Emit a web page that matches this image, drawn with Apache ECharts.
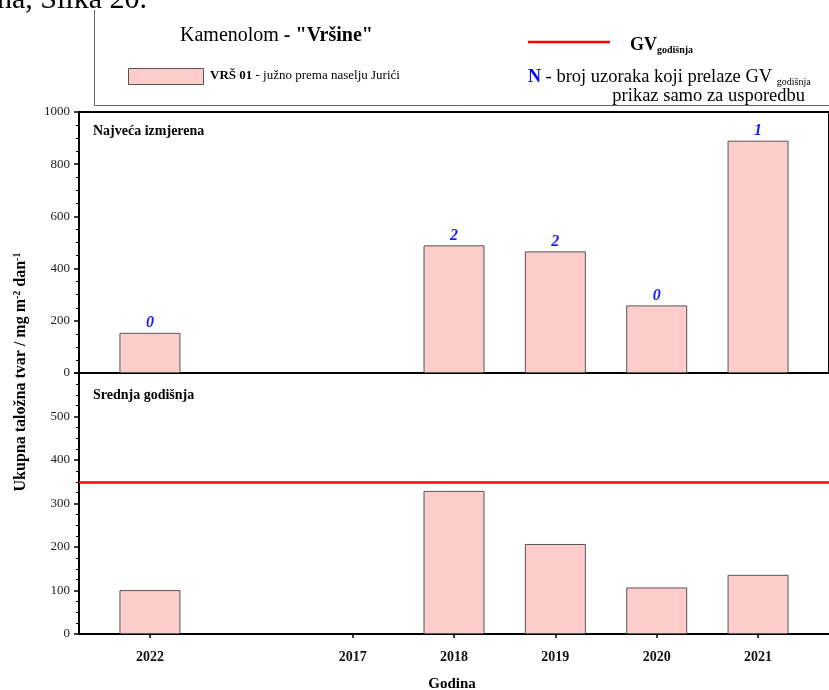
<!DOCTYPE html>
<html>
<head>
<meta charset="utf-8">
<script src="https://cdn.jsdelivr.net/npm/echarts@6/dist/echarts.min.js"></script>
<style>
  html, body { margin: 0; padding: 0; background: #fff; }
  #chart { width: 829px; height: 690px; }
</style>
</head>
<body>
<div id="chart"></div>
<script>
// Years on the x axis and the slot each one sits in (one slot left empty)
const years = ['2022', '2017', '2018', '2019', '2020', '2021'];
const slots = [0, 2, 3, 4, 5, 6];

// Najveća izmjerena (mg m-2 dan-1)
const maxValues = [154, null, 489, 466, 259, 890];
// Srednja godišnja (mg m-2 dan-1)
const meanValues = [101, null, 329, 207, 107, 136];
// N - broj uzoraka koji prelaze GV godišnja
const nCounts = [0, null, 2, 2, 0, 1];
// GV godišnja
const gvLimit = 350;

const serif = '"Liberation Serif", "DejaVu Serif", serif';
const barColor = '#ffcccc';
const barBorder = '#555555';

var chart = echarts.init(document.getElementById('chart'));

function pairs(values) {
  const out = [];
  values.forEach((v, i) => {
    if (v !== null) out.push({ value: [slots[i], v], n: nCounts[i] });
  });
  return out;
}

function yearLabel(val) {
  const i = slots.indexOf(Math.round(val));
  return i >= 0 ? years[i] : '';
}

const xCommon = {
  type: 'value',
  min: -0.7,
  max: 6.7,
  splitLine: { show: false },
  axisLine: { show: true, onZero: false, lineStyle: { color: '#000', width: 2 } }
};

const yCommon = {
  type: 'value',
  splitLine: { show: false },
  axisLine: { show: true, onZero: false, lineStyle: { color: '#000', width: 2 } },
  axisTick: { show: true, length: 5, lineStyle: { color: '#000', width: 1.5 } },
  minorTick: { show: true, splitNumber: 4, length: 3, lineStyle: { color: '#000' } },
  axisLabel: {
    fontFamily: serif, fontSize: 13, color: '#222', margin: 9,
    formatter: (v) => String(v)
  }
};

chart.setOption({
  backgroundColor: '#fff',
  animation: false,
  grid: [
    { left: 79, top: 112, width: 752, height: 261, show: true, borderColor: '#000', borderWidth: 2, backgroundColor: 'transparent' },
    { left: 79, top: 373, width: 752, height: 261 }
  ],
  xAxis: [
    Object.assign({}, xCommon, {
      gridIndex: 0,
      axisTick: { show: false },
      axisLabel: { show: false }
    }),
    Object.assign({}, xCommon, {
      gridIndex: 1,
      axisTick: { show: true, customValues: slots, length: 4, lineStyle: { color: '#000', width: 1.5 } },
      axisLabel: {
        customValues: slots,
        formatter: yearLabel,
        fontFamily: serif, fontSize: 14, fontWeight: 'bold', color: '#111', margin: 16
      }
    })
  ],
  yAxis: [
    Object.assign({}, yCommon, { gridIndex: 0, min: 0, max: 1000, interval: 200 }),
    Object.assign({}, yCommon, {
      gridIndex: 1, min: 0, max: 600, interval: 100,
      axisLabel: Object.assign({}, yCommon.axisLabel, { showMaxLabel: false })
    })
  ],
  series: [
    {
      type: 'bar',
      xAxisIndex: 0,
      yAxisIndex: 0,
      barWidth: 61,
      data: pairs(maxValues),
      itemStyle: { color: barColor, borderColor: barBorder, borderWidth: 1 },
      label: {
        show: true,
        position: 'top',
        distance: 2,
        formatter: (p) => String(p.data.n),
        fontFamily: serif, fontSize: 16, fontWeight: 'bold', fontStyle: 'italic', color: '#1a1aff'
      }
    },
    {
      type: 'bar',
      xAxisIndex: 1,
      yAxisIndex: 1,
      barWidth: 61,
      data: pairs(meanValues),
      itemStyle: { color: barColor, borderColor: barBorder, borderWidth: 1 },
      markLine: {
        silent: true,
        symbol: 'none',
        label: { show: false },
        lineStyle: { color: '#ff0000', width: 2.5, type: 'solid' },
        data: [{ yAxis: gvLimit }]
      }
    }
  ],
  graphic: [
    // legend box (left and bottom edges only are visible)
    { type: 'line', shape: { x1: 94.5, y1: 10, x2: 94.5, y2: 105.5 }, style: { stroke: '#666', lineWidth: 1 } },
    { type: 'line', shape: { x1: 94.5, y1: 105.5, x2: 829, y2: 105.5 }, style: { stroke: '#666', lineWidth: 1 } },
    // text of the surrounding document, cut off at the top
    { type: 'text', x: -3, y: 15, style: { text: 'na, Slika 20.', font: '30px ' + serif, fill: '#000', verticalAlign: 'bottom' } },
    {
      type: 'text', x: 180, y: 26,
      style: {
        text: '{r|Kamenolom }{b|- "Vršine"}',
        rich: {
          r: { font: '20px ' + serif, fill: '#000' },
          b: { font: 'bold 20px ' + serif, fill: '#000' }
        }
      }
    },
    { type: 'rect', shape: { x: 128.5, y: 68.5, width: 75, height: 16 }, style: { fill: barColor, stroke: barBorder, lineWidth: 1 } },
    {
      type: 'text', x: 210, y: 69,
      style: {
        text: '{b|VRŠ 01}{r| - južno prema naselju Jurići}',
        rich: {
          b: { font: 'bold 13px ' + serif, fill: '#000' },
          r: { font: '13px ' + serif, fill: '#000' }
        }
      }
    },
    { type: 'line', shape: { x1: 528, y1: 42, x2: 610, y2: 42 }, style: { stroke: '#ff0000', lineWidth: 2.5 } },
    {
      type: 'text', x: 630, y: 34,
      style: {
        text: '{b|GV}{s|godišnja}',
        rich: {
          b: { font: 'bold 18px ' + serif, fill: '#000', lineHeight: 22 },
          s: { font: 'bold 10px ' + serif, fill: '#000', lineHeight: 22, padding: [10, 0, 0, 0] }
        }
      }
    },
    {
      type: 'text', x: 528, y: 66,
      style: {
        text: '{n|N}{r| - broj uzoraka koji prelaze GV }{s|godišnja}',
        rich: {
          n: { font: 'bold 18px ' + serif, fill: '#0000ff', lineHeight: 22 },
          r: { font: '18.5px ' + serif, fill: '#000', lineHeight: 22 },
          s: { font: '10px ' + serif, fill: '#000', lineHeight: 22, padding: [10, 0, 0, 0] }
        }
      }
    },
    { type: 'text', x: 805, y: 87, style: { text: 'prikaz samo za usporedbu', font: '18.5px ' + serif, fill: '#000', align: 'right' } },
    // panel captions
    { type: 'text', x: 93, y: 124, style: { text: 'Najveća izmjerena', font: 'bold 14px ' + serif, fill: '#000' } },
    { type: 'text', x: 93, y: 388, style: { text: 'Srednja godišnja', font: 'bold 14px ' + serif, fill: '#000' } },
    // axis names
    {
      type: 'text', x: 21, y: 372, rotation: Math.PI / 2,
      style: {
        text: '{b|Ukupna taložna tvar / mg m}{s|-2}{b| dan}{s|-1}',
        align: 'center', verticalAlign: 'middle',
        rich: {
          b: { font: 'bold 16px ' + serif, fill: '#000', lineHeight: 20 },
          s: { font: 'bold 10px ' + serif, fill: '#000', lineHeight: 20, padding: [0, 0, 8, 0] }
        }
      }
    },
    { type: 'text', x: 452, y: 677, style: { text: 'Godina', font: 'bold 15px ' + serif, fill: '#000', align: 'center' } }
  ]
});
</script>
</body>
</html>
